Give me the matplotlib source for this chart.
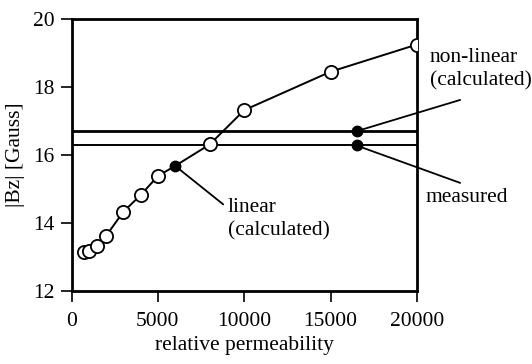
import matplotlib
matplotlib.use('Agg')
import matplotlib.pyplot as plt

# curve: |Bz| vs relative permeability (linear calculation)
perm = [700, 1000, 1500, 2000, 3000, 4000, 5000, 6000, 8000, 10000, 15000, 20000]
bz = [13.16, 13.19, 13.32, 13.62, 14.33, 14.82, 15.38, 15.68, 16.31, 17.32, 18.45, 19.25]
open_mask = [True, True, True, True, True, True, True, False, True, True, True, True]

linear_pt = (6000, 15.68)
nonlinear_val = 16.70
measured_val = 16.28
marker_x = 16500

plt.rcParams['font.family'] = ['Liberation Serif', 'DejaVu Serif']
plt.rcParams['font.size'] = 15.5

fig = plt.figure(figsize=(5.32, 3.64), dpi=100)
ax = fig.add_axes([0.1344, 0.2005, 0.6494, 0.7473])

ax.plot(perm, bz, color='black', lw=1.4, zorder=2)
ox = [p for p, m in zip(perm, open_mask) if m]
oy = [b for b, m in zip(bz, open_mask) if m]
ax.plot(ox, oy, 'o', ms=9.5, mfc='white', mec='black', mew=1.3, zorder=3)
ax.plot(*linear_pt, 'o', ms=7.5, color='black', zorder=4)

ax.axhline(nonlinear_val, color='black', lw=2.0, zorder=1)
ax.axhline(measured_val, color='black', lw=1.4, zorder=1)
ax.plot([marker_x, marker_x], [nonlinear_val, measured_val], 'o', ms=7.5, color='black', zorder=4)

# leader lines
ax.annotate('', xy=linear_pt, xytext=(8780, 14.55),
            arrowprops=dict(arrowstyle='-', color='black', lw=1.3, shrinkA=0, shrinkB=0))
ax.annotate('', xy=(marker_x, nonlinear_val), xytext=(22500, 17.62), annotation_clip=False,
            arrowprops=dict(arrowstyle='-', color='black', lw=1.3, shrinkA=0, shrinkB=0))
ax.annotate('', xy=(marker_x, measured_val), xytext=(22500, 15.18), annotation_clip=False,
            arrowprops=dict(arrowstyle='-', color='black', lw=1.3, shrinkA=0, shrinkB=0))

ax.text(9050, 14.10, 'linear\n(calculated)', va='center', ha='left', linespacing=1.3)
ax.text(20750, 18.53, 'non-linear\n(calculated)', va='center', ha='left', linespacing=1.3, clip_on=False)
ax.text(20520, 14.74, 'measured', va='center', ha='left', clip_on=False)

ax.set_xlim(0, 20000)
ax.set_ylim(12, 20)
ax.set_xticks([0, 5000, 10000, 15000, 20000])
ax.set_yticks([12, 14, 16, 18, 20])
ax.tick_params(direction='out', length=8, width=1.2, top=False, right=False)
ax.tick_params(axis='x', pad=7)
ax.tick_params(axis='y', pad=4)
for s in ax.spines.values():
    s.set_linewidth(2.0)

ax.set_xlabel('relative permeability', labelpad=4)
ax.set_ylabel('|Bz| [Gauss]', labelpad=6)

fig.savefig('out.png', dpi=100)
